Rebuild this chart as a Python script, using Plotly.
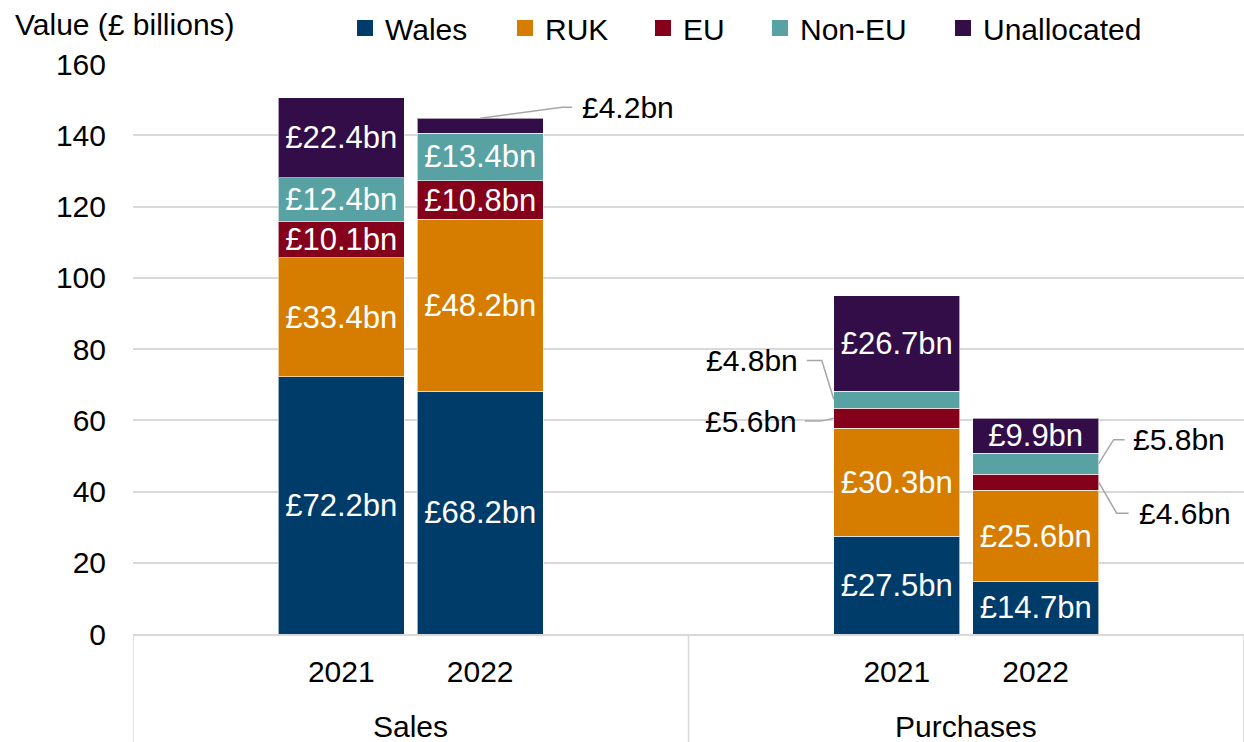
import plotly.graph_objects as go

# ---- data ----
groups = ["Sales", "Purchases"]
years = ["2021", "2022"]
series_names = ["Wales", "RUK", "EU", "Non-EU", "Unallocated"]
wales = [72.2, 68.2, 27.5, 14.7]
ruk = [33.4, 48.2, 30.3, 25.6]
eu = [10.1, 10.8, 5.6, 4.6]
non_eu = [12.4, 13.4, 4.8, 5.8]
unallocated = [22.4, 4.2, 26.7, 9.9]

series_values = [wales, ruk, eu, non_eu, unallocated]
colors = ["#003C69", "#D67D00", "#84001B", "#58A2A3", "#330D48"]
legend_widths = [115, 93, 72, 138, 170]   # px per legend entry (style)

# labels drawn outside the bar with a leader line: (series, bar index) -> spec
# spec: side, elbow offset (px), line end offset (px), text offset (px)
outside = {
    ("Unallocated", 1): ("top", (82, 11), 92, 100),
    ("Non-EU", 2): ("left", (-12, 39), -27, -34),
    ("EU", 2): ("left", (-13, -3), -29, -35),
    ("Non-EU", 3): ("right", (15, 24), 26, 32),
    ("EU", 3): ("right", (18, -31), 30, 38),
}

FONT = "Liberation Sans, Arial, sans-serif"
FS = 30
FS_IN = 31
W, H = 1244, 742
ML, MR, MT, MB = 133, 0, 64, 108
plot_w = W - ML - MR
plot_h = H - MT - MB
XR = [0, 8]
YR = [0, 160]
px_x = (XR[1] - XR[0]) / plot_w
px_y = (YR[1] - YR[0]) / plot_h

bar_w = 0.907
positions = [gi * 4 + 1.5 + yi for gi in range(len(groups)) for yi in range(len(years))]
tick_text = [y for _ in groups for y in years]

fig = go.Figure()
for name, vals, col in zip(series_names, series_values, colors):
    texts = []
    for i, v in enumerate(vals):
        texts.append("" if (name, i) in outside else f"£{v}bn")
    fig.add_trace(go.Bar(
        name=name, x=positions, y=vals, width=bar_w, legendgroup=name, showlegend=False,
        marker=dict(color=col, line=dict(color="rgba(255,255,255,0.6)", width=1)),
        text=texts, textposition="inside", insidetextanchor="middle",
        textangle=0, textfont=dict(color="white", size=FS_IN, family=FONT),
        hoverinfo="skip",
    ))
# legend entries with square swatches
for name, col, lw in zip(series_names, colors, legend_widths):
    fig.add_trace(go.Scatter(
        name=name, x=[None], y=[None], mode="markers", legendgroup=name,
        marker=dict(symbol="square", size=16, color=col, line=dict(width=0)),
        legendwidth=lw, hoverinfo="skip",
    ))

# leader lines and outside labels
annotations = []
shapes = []
for (name, i), (side, elbow, line_end, text_off) in outside.items():
    si = series_names.index(name)
    base = sum(series_values[k][i] for k in range(si))
    v = series_values[si][i]
    if side == "top":
        ax, ay = positions[i], base + v
    elif side == "left":
        ax, ay = positions[i] - bar_w / 2, base + v / 2
    else:
        ax, ay = positions[i] + bar_w / 2, base + v / 2
    ex, ey = ax + elbow[0] * px_x, ay + elbow[1] * px_y
    lx = ax + line_end * px_x
    tx = ax + text_off * px_x
    shapes.append(dict(type="path", xref="x", yref="y",
                       path=f"M{ax},{ay} L{ex},{ey} L{lx},{ey}",
                       line=dict(color="#A6A6A6", width=1.5)))
    annotations.append(dict(x=tx, y=ey, xref="x", yref="y", text=f"£{v}bn",
                            showarrow=False, xanchor="left" if side != "left" else "right",
                            yanchor="middle", font=dict(size=FS, color="#000", family=FONT)))

# group dividers below the axis
for xv in [0, 4, 8]:
    shapes.append(dict(type="line", xref="x", yref="paper", x0=xv, x1=xv,
                       y0=0, y1=-MB / plot_h, line=dict(color="#D9D9D9", width=1.5)))

# group labels
for gi, g in enumerate(groups):
    annotations.append(dict(x=gi * 4 + 2, y=0, xref="x", yref="paper", text=g,
                            showarrow=False, yanchor="middle", yshift=-92,
                            font=dict(size=FS, color="#000", family=FONT)))

# axis title
annotations.append(dict(x=(13 - ML) / plot_w, y=1 + (MT - 24) / plot_h,
                        xref="paper", yref="paper",
                        text="Value (£ billions)", showarrow=False,
                        xanchor="left", yanchor="middle",
                        font=dict(size=FS, color="#000", family=FONT)))

fig.update_layout(
    width=W, height=H,
    margin=dict(l=ML, r=MR, t=MT, b=MB, autoexpand=False),
    barmode="stack",
    plot_bgcolor="white", paper_bgcolor="white",
    font=dict(family=FONT, size=FS, color="#000"),
    uniformtext=dict(minsize=FS_IN, mode="show"),
    legend=dict(orientation="h", traceorder="normal",
                x=345 / W, xanchor="left", xref="container",
                y=1 - 28 / H, yanchor="middle", yref="container",
                font=dict(size=FS, family=FONT, color="#000"),
                itemclick=False, itemdoubleclick=False),
    xaxis=dict(range=XR, tickvals=positions, ticktext=tick_text, showgrid=False,
               zeroline=False, showline=True, linecolor="#D9D9D9", linewidth=2,
               ticks="", ticklabelstandoff=10, automargin=False,
               tickfont=dict(size=FS, family=FONT, color="#000")),
    yaxis=dict(range=YR, dtick=20, showgrid=True, gridcolor="#D9D9D9", gridwidth=1.5,
               zeroline=False, showline=False, ticks="", ticklabelstandoff=26,
               automargin=False, tickfont=dict(size=FS, family=FONT, color="#000")),
    shapes=shapes,
    annotations=annotations,
    showlegend=True,
)

fig.write_html("out.html", config={"displayModeBar": False},
               post_script="document.body.style.margin='0';document.body.style.overflow='hidden';")
